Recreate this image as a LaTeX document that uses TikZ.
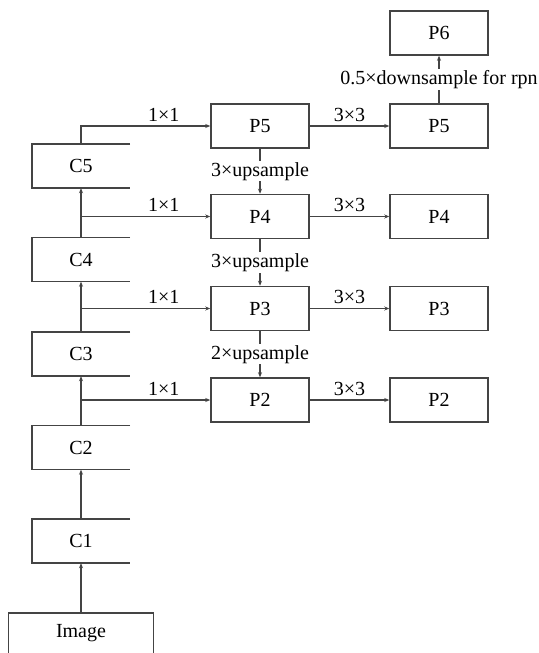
\documentclass[tikz,border=0pt]{standalone}
\usepackage{fontspec}
\setmainfont{Liberation Serif}
\usetikzlibrary{arrows.meta,positioning}
\definecolor{linegray}{HTML}{444444}

\begin{document}
\begin{tikzpicture}[x=1pt,y=-1pt,
    box/.style={draw=linegray,line width=1.5pt,minimum width=98pt,minimum height=44pt,inner sep=0pt,font=\rmfamily\fontsize{20}{24}\selectfont},
    openbox/.style={minimum width=98pt,minimum height=44pt,inner sep=0pt,font=\rmfamily\fontsize{20}{24}\selectfont},
    conn/.style={draw=linegray,line width=1.1pt,-{Stealth[length=5pt,width=4pt]}},
    lab/.style={font=\rmfamily\fontsize{20}{24}\selectfont,inner sep=1pt}]
        \useasboundingbox (0,0) rectangle (538,653);

        \node[box] (p6) at (439,33)    {P6};
        \node[box] (q5) at (439,126)   {P5};
        \node[box] (q4) at (439,216.5) {P4};
        \node[box] (q3) at (439,308.5) {P3};
        \node[box] (q2) at (439,400)   {P2};

        \node[box] (p5) at (260,126)   {P5};
        \node[box] (p4) at (260,216.5) {P4};
        \node[box] (p3) at (260,308.5) {P3};
        \node[box] (p2) at (260,400)   {P2};

        \node[openbox] (c5) at (81,166)   {C5};
        \node[openbox] (c4) at (81,259.5) {C4};
        \node[openbox] (c3) at (81,354)   {C3};
        \node[openbox] (c2) at (81,447.5) {C2};
        \node[openbox] (c1) at (81,541)   {C1};
        \node[openbox,minimum width=145pt,minimum height=40pt] (img) at (81,633) {Image};

        \foreach \c in {c1,c2,c3,c4,c5}
            \draw[linegray,line width=1.5pt] (\c.north east) -| (\c.south west) -- (\c.south east);
        \draw[linegray,line width=1.5pt] (img.south west) |- (img.north east) -- (img.south east);

        \path [conn] (img) edge (c1);
        \path [conn] (c1) edge (c2);
        \path [conn] (c2) edge (c3);
        \path [conn] (c3) edge (c4);
        \path [conn] (c4) edge (c5);

        \draw [conn] (c5.north) |- node[lab,above=3pt,pos=0.82] {1×1} (p5);
        \draw [conn] (c4.north |- p4) -- node[lab,above=3pt,pos=0.64] {1×1} (p4);
        \draw [conn] (c3.north |- p3) -- node[lab,above=3pt,pos=0.64] {1×1} (p3);
        \draw [conn] (c2.north |- p2) -- node[lab,above=3pt,pos=0.64] {1×1} (p2);

        \path [conn] (p5) edge node[lab,fill=white] {3×upsample} (p4);
        \path [conn] (p4) edge node[lab,fill=white] {3×upsample} (p3);
        \path [conn] (p3) edge node[lab,fill=white] {2×upsample} (p2);

        \path [conn] (p5) edge node[lab,above=3pt] {3×3} (q5);
        \path [conn] (p4) edge node[lab,above=3pt] {3×3} (q4);
        \path [conn] (p3) edge node[lab,above=3pt] {3×3} (q3);
        \path [conn] (p2) edge node[lab,above=3pt] {3×3} (q2);

        \path [conn] (q5) edge node[lab,fill=white] {0.5×downsample for rpn} (p6);

    \end{tikzpicture}
\end{document}
